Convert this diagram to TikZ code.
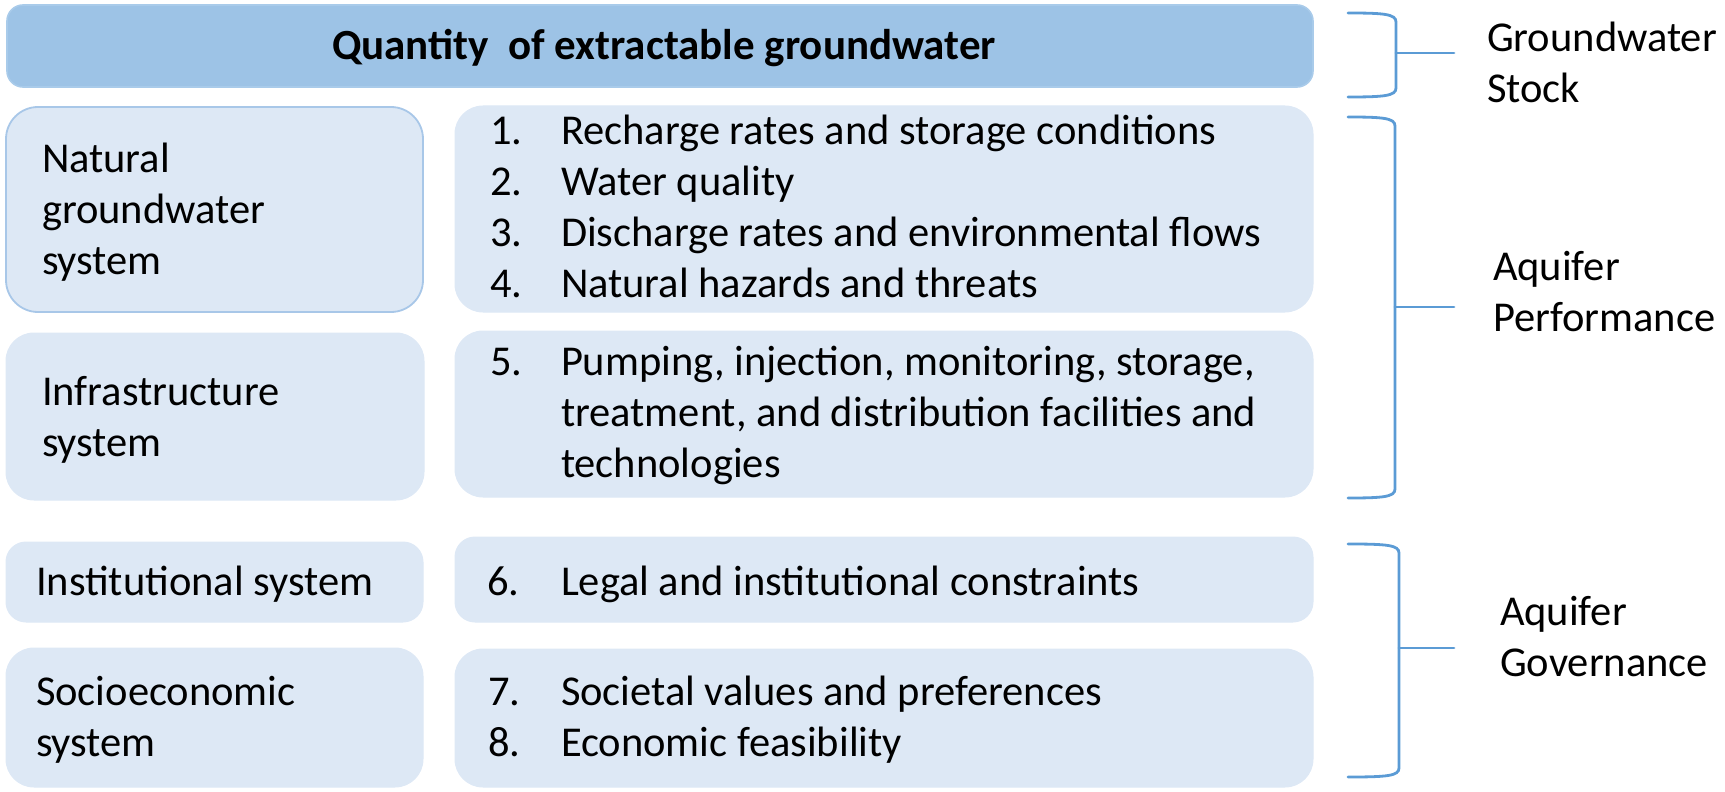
\documentclass[tikz,border=0pt]{standalone}
\usepackage{fontspec}
\setmainfont{Carlito}
\usetikzlibrary{fit}
\definecolor{barblue}{HTML}{9DC3E6}
\definecolor{baredge}{HTML}{A9CBEA}
\definecolor{boxblue}{HTML}{DDE8F5}
\definecolor{boxedge}{HTML}{A8C7E8}
\definecolor{brack}{HTML}{5B9BD5}
\begin{document}
\begin{tikzpicture}[x=0.5pt,y=-0.5pt,
  every node/.style={inner sep=0pt,outer sep=0pt},
  bodyfont/.style={font=\fontsize{21.25}{25.5}\selectfont},
  txt/.style={bodyfont,text=black,align=left,anchor=north west},
  onetxt/.style={bodyfont,text=black,anchor=base west},
  panel/.style={fill=boxblue,draw=boxblue,line width=0.5pt,rounded corners=14pt},
  smallpanel/.style={fill=boxblue,draw=boxblue,line width=0.5pt,rounded corners=10pt},
  brk/.style={draw=brack,line width=1.4pt,line cap=round}]
\useasboundingbox (0,0) rectangle (1725,792);

% top bar
\node[fit={(7,5)(1313,87)},fill=barblue,draw=baredge,line width=0.8pt,rounded corners=8pt] (bar) {};
\node[font=\bfseries\fontsize{21.5}{25}\selectfont,anchor=base] (title) at (664,60) {Quantity~~of extractable groundwater};

% left boxes
\node[fit={(6,107)(423,312)},panel,draw=boxedge,line width=0.9pt,rounded corners=16pt] (natbox) {};
\node[fit={(6,333)(424,500)},panel] (infbox) {};
\node[fit={(6,542)(423,622)},smallpanel] (instbox) {};
\node[fit={(6,648)(423,787)},panel] (socbox) {};

% right boxes
\node[fit={(455,106)(1313,312)},panel] (natlist) {};
\node[fit={(455,331)(1313,497)},panel] (inflist) {};
\node[fit={(455,537)(1313,622)},smallpanel] (instlist) {};
\node[fit={(455,649)(1313,787)},panel] (soclist) {};

% left texts
\node[txt] (natT) at (42,136.3) {\strut Natural\\groundwater\\system};
\node[txt] (infT) at (42,369.3) {\strut Infrastructure\\system};
\node[onetxt] (instT) at (36,595) {Institutional system};
\node[txt] (socT) at (36,669.3) {\strut Socioeconomic\\system};

% numbered items
\node[txt] (n1) at (490,108.3) {\strut 1.\\2.\\3.\\4.};
\node[txt] (t1) at (561,108.3) {\strut Recharge rates and storage conditions\\Water quality\\Discharge rates and environmental flows\\Natural hazards and threats};
\node[txt] (n5) at (490,339.3) {\strut 5.};
\node[txt] (t5) at (561,339.3) {\strut Pumping, injection, monitoring, storage,\\treatment, and distribution facilities and\\technologies};
\node[onetxt] (n6) at (487,595) {6.};
\node[onetxt] (t6) at (561,595) {Legal and institutional constraints};
\node[txt] (n7) at (488,669.3) {\strut 7.\\8.};
\node[txt] (t7) at (561,669.3) {\strut Societal values and preferences\\Economic feasibility};

% right labels
\node[txt] (stock) at (1487,16) {\strut Groundwater\\Stock};
\node[txt] (perf) at (1493,245) {\strut Aquifer\\Performance};
\node[txt] (gov) at (1500,590) {\strut Aquifer\\Governance};

% brackets
\draw[brk] (1348,13) .. controls (1384,13) and (1396,14) .. (1396,22) -- (1396,88) .. controls (1396,96) and (1384,97) .. (1348,97);
\coordinate (b1m) at (1396,53); \coordinate (b1e) at (1454,53);
\draw[brk] (b1m) -- (b1e);

\draw[brk] (1348,117) .. controls (1383,117) and (1395,118) .. (1395,126) -- (1395,489) .. controls (1395,497) and (1383,498) .. (1348,498);
\coordinate (b2m) at (1395,307); \coordinate (b2e) at (1454,307);
\draw[brk] (b2m) -- (b2e);

\draw[brk] (1348,544) .. controls (1387,544) and (1399,545) .. (1399,553) -- (1399,768) .. controls (1399,776) and (1387,777) .. (1348,777);
\coordinate (b3m) at (1399,648); \coordinate (b3e) at (1454,648);
\draw[brk] (b3m) -- (b3e);
\end{tikzpicture}
\end{document}
